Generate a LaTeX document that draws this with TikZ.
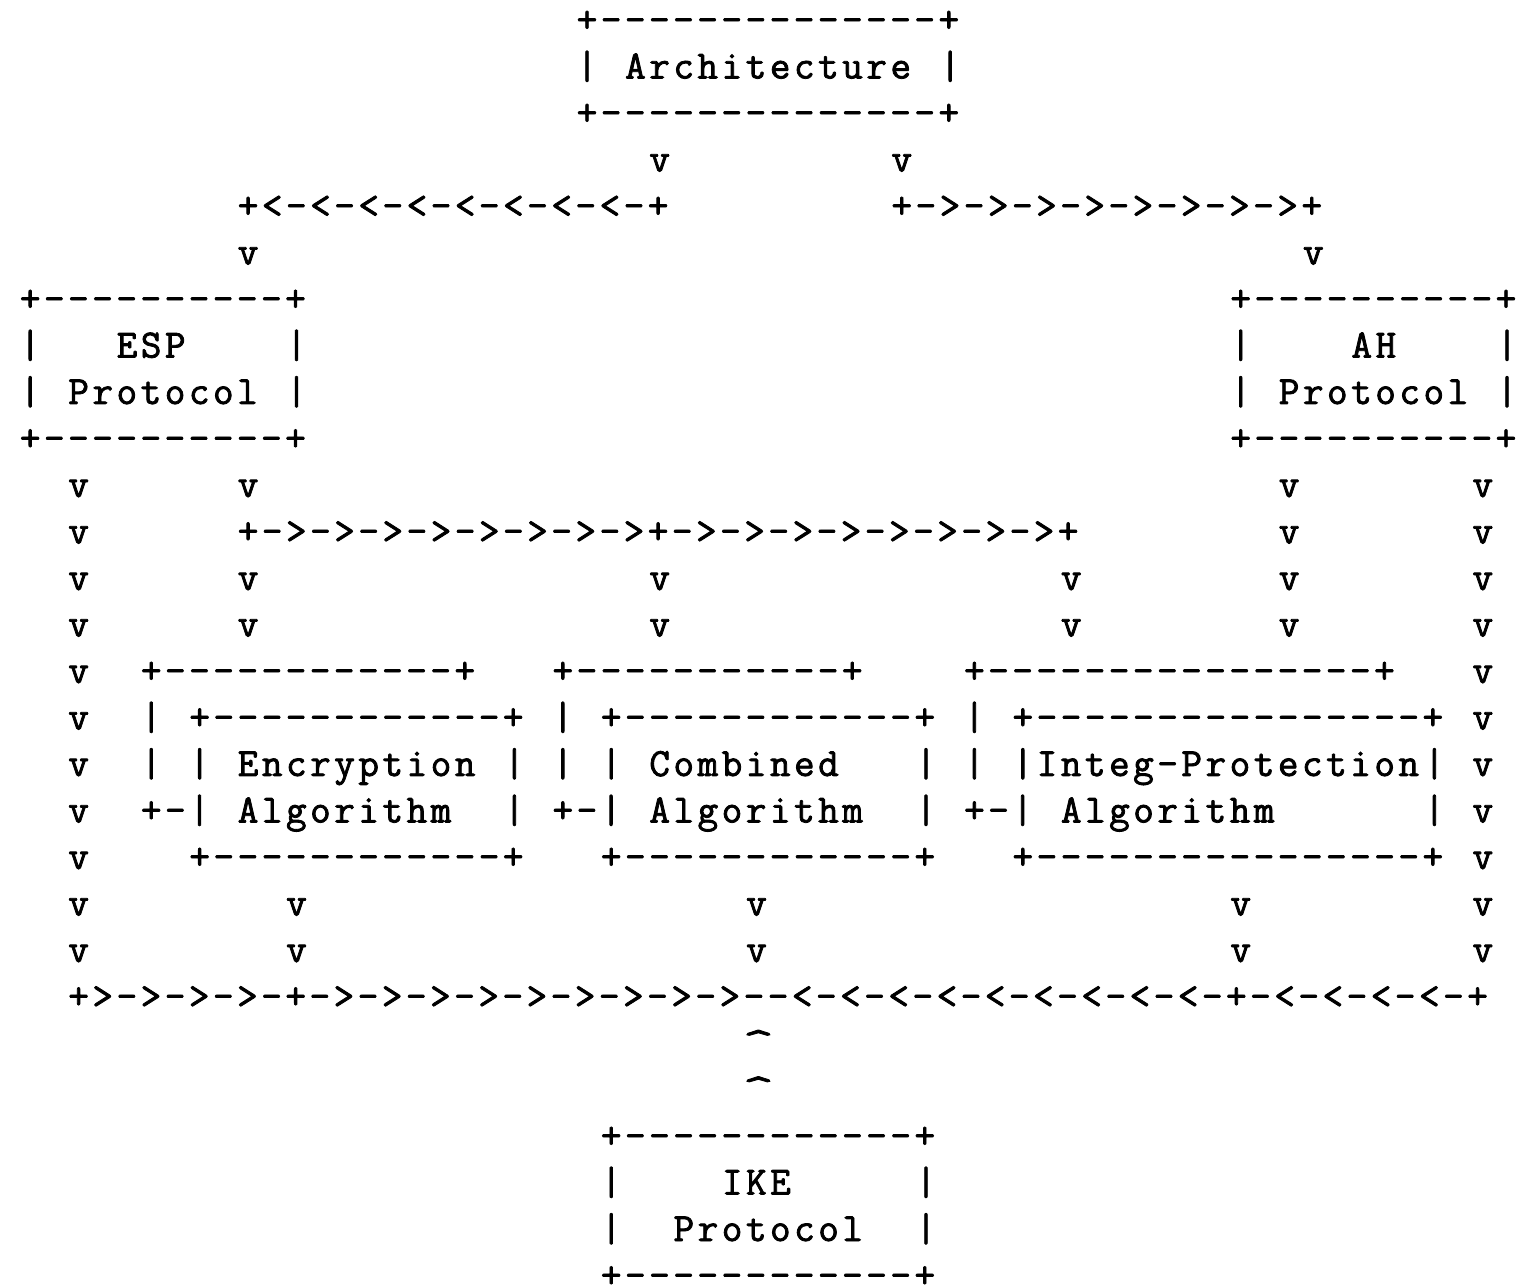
\documentclass[tikz,border=0pt]{standalone}
\usepackage{fontspec}
\setmonofont{Latin Modern Mono}[LetterSpace=8.8,FakeBold=2]
\tikzset{asc/.style={font=\ttfamily\fontsize{20pt}{20pt}\selectfont, anchor=base west, inner sep=0pt, outer sep=0pt, text=black}}
% row, column, text  (monospace grid: 12.105pt per column, 23.25pt per row)
\newcommand\seg[3]{\node[asc] (r#1c#2) at ({9.95pt+#2*12.105pt},{-16pt-(#1-1)*23.25pt}) {#3};}
\newcommand\caret[2]{\node[asc, anchor=base] (r#1c#2) at ({9.95pt+#2*12.105pt+6.1pt},{-16pt-(#1-1)*23.25pt}) {\scalebox{1.5}[1]{\textasciicircum}};}
\begin{document}
\begin{tikzpicture}
\fill[white] (0,0) rectangle (761.5pt,-644pt);
\useasboundingbox (0,0) rectangle (761.5pt,-644pt);
% Architecture
\seg{1}{23}{+--------------+}
\seg{2}{23}{|}\seg{2}{25}{Architecture}\seg{2}{38}{|}
\seg{3}{23}{+--------------+}
\seg{4}{26}{v}\seg{4}{36}{v}
\seg{5}{9}{+<-<-<-<-<-<-<-<-+}\seg{5}{36}{+->->->->->->->->+}
\seg{6}{9}{v}\seg{6}{53}{v}
% ESP / AH
\seg{7}{0}{+----------+}\seg{7}{50}{+----------+}
\seg{8}{0}{|}\seg{8}{4}{ESP}\seg{8}{11}{|}\seg{8}{50}{|}\seg{8}{55}{AH}\seg{8}{61}{|}
\seg{9}{0}{|}\seg{9}{2}{Protocol}\seg{9}{11}{|}\seg{9}{50}{|}\seg{9}{52}{Protocol}\seg{9}{61}{|}
\seg{10}{0}{+----------+}\seg{10}{50}{+----------+}
\seg{11}{2}{v}\seg{11}{9}{v}\seg{11}{52}{v}\seg{11}{60}{v}
\seg{12}{2}{v}\seg{12}{9}{+->->->->->->->->+->->->->->->->->+}\seg{12}{52}{v}\seg{12}{60}{v}
\seg{13}{2}{v}\seg{13}{9}{v}\seg{13}{26}{v}\seg{13}{43}{v}\seg{13}{52}{v}\seg{13}{60}{v}
\seg{14}{2}{v}\seg{14}{9}{v}\seg{14}{26}{v}\seg{14}{43}{v}\seg{14}{52}{v}\seg{14}{60}{v}
% algorithm boxes
\seg{15}{2}{v}\seg{15}{5}{+------------+}\seg{15}{22}{+-----------+}\seg{15}{39}{+----------------+}\seg{15}{60}{v}
\seg{16}{2}{v}\seg{16}{5}{|}\seg{16}{7}{+------------+}\seg{16}{22}{|}\seg{16}{24}{+------------+}\seg{16}{39}{|}\seg{16}{41}{+----------------+}\seg{16}{60}{v}
\seg{17}{2}{v}\seg{17}{5}{|}\seg{17}{7}{|}\seg{17}{9}{Encryption}\seg{17}{20}{|}\seg{17}{22}{|}\seg{17}{24}{|}\seg{17}{26}{Combined}\seg{17}{37}{|}\seg{17}{39}{|}\seg{17}{41}{|}\seg{17}{42}{Integ-Protection}\seg{17}{58}{|}\seg{17}{60}{v}
\seg{18}{2}{v}\seg{18}{5}{+-|}\seg{18}{9}{Algorithm}\seg{18}{20}{|}\seg{18}{22}{+-|}\seg{18}{26}{Algorithm}\seg{18}{37}{|}\seg{18}{39}{+-|}\seg{18}{43}{Algorithm}\seg{18}{58}{|}\seg{18}{60}{v}
\seg{19}{2}{v}\seg{19}{7}{+------------+}\seg{19}{24}{+------------+}\seg{19}{41}{+----------------+}\seg{19}{60}{v}
\seg{20}{2}{v}\seg{20}{11}{v}\seg{20}{30}{v}\seg{20}{50}{v}\seg{20}{60}{v}
\seg{21}{2}{v}\seg{21}{11}{v}\seg{21}{30}{v}\seg{21}{50}{v}\seg{21}{60}{v}
\seg{22}{2}{+>->->->-+->->->->->->->->->--<-<-<-<-<-<-<-<-<-+-<-<-<-<-+}
\caret{23}{30}
\caret{24}{30}
% IKE
\seg{25}{24}{+------------+}
\seg{26}{24}{|}\seg{26}{29}{IKE}\seg{26}{37}{|}
\seg{27}{24}{|}\seg{27}{27}{Protocol}\seg{27}{37}{|}
\seg{28}{24}{+------------+}
\end{tikzpicture}
\end{document}
